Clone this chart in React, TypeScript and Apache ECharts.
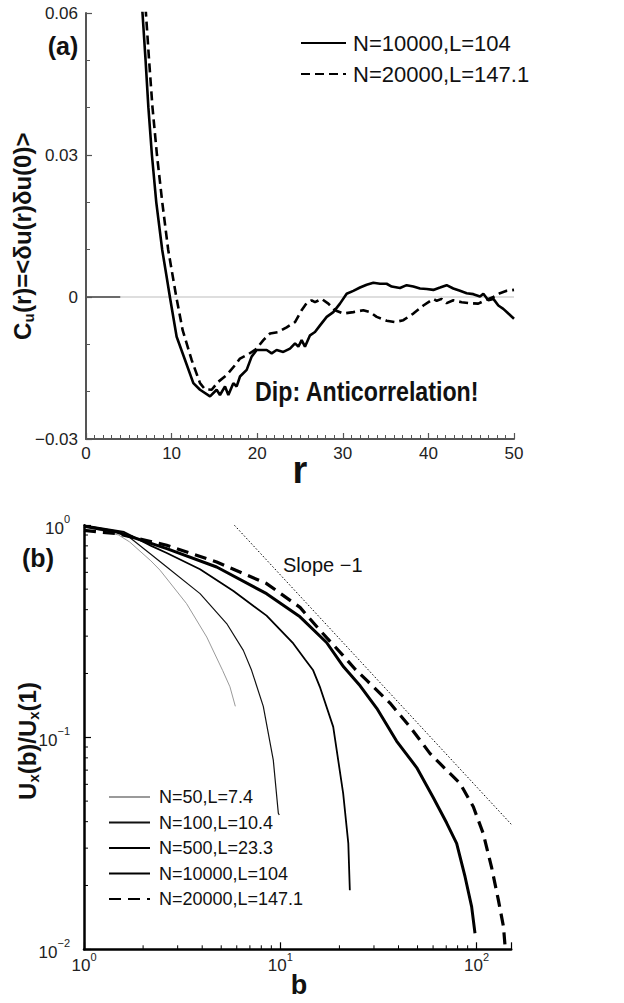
import React, { useEffect, useRef } from 'react';
import * as echarts from 'echarts';

const FONT = '"Liberation Sans", Arial, Helvetica, sans-serif';

// ---------- Panel (a): C_u(r) ----------
const rSolid = [6.27, 6.6, 6.96, 7.29, 7.7, 8.21, 8.9, 9.4, 9.8, 10.59, 11.57, 12.54, 13.32, 14.49, 15.26, 15.65, 16.24, 16.63, 17.21, 17.6, 17.99, 18.77, 19.35, 19.94, 21.11, 21.69, 22.27, 23.05, 23.83, 24.42, 24.81, 25.19, 25.58, 26.17, 26.75, 27.34, 28.12, 28.89, 29.67, 30.45, 31.23, 32.01, 32.79, 33.57, 34.35, 35.12, 35.71, 36.68, 37.46, 38.24, 39.02, 39.8, 40.58, 41.36, 42.13, 42.91, 43.69, 44.47, 45.25, 46.03, 46.42, 47.0, 47.59, 48.17, 48.75, 49.34, 50];
const cSolid = [0.07, 0.06, 0.05, 0.04, 0.03, 0.02, 0.01, 0.0045, 0, -0.0084, -0.0133, -0.0182, -0.0196, -0.021, -0.0196, -0.0207, -0.0189, -0.0207, -0.0182, -0.0189, -0.0168, -0.0154, -0.0126, -0.0112, -0.0112, -0.0119, -0.0112, -0.0116, -0.0109, -0.0098, -0.0105, -0.0091, -0.0105, -0.0081, -0.0074, -0.006, -0.0042, -0.0032, -0.0014, 0.0007, 0.0013, 0.002, 0.0026, 0.003, 0.0028, 0.0028, 0.0022, 0.0019, 0.0025, 0.0022, 0.0018, 0.0017, 0.0015, 0.002, 0.0025, 0.0018, 0.0013, 0.0008, 0.0006, 0.0001, 0.0007, -0.0007, -0.0004, -0.0018, -0.0025, -0.0035, -0.0046];
const rDashed = [6.64, 7.0, 7.37, 7.77, 8.29, 8.91, 9.6, 10.55, 11.29, 12.34, 13.32, 13.9, 14.68, 15.46, 16.43, 17.41, 17.99, 18.96, 19.94, 20.72, 21.5, 22.47, 23.44, 24.42, 25.19, 25.78, 26.36, 26.75, 27.53, 28.31, 29.09, 30.06, 31.23, 32.4, 33.18, 33.96, 35.12, 36.1, 37.07, 38.24, 39.41, 40.58, 40.97, 41.55, 42.13, 42.91, 43.89, 44.86, 45.83, 46.61, 47.59, 48.36, 49.14, 50];
const cDashed = [0.07, 0.06, 0.05, 0.04, 0.03, 0.02, 0.01, 0, -0.007, -0.0133, -0.0182, -0.0195, -0.0196, -0.0179, -0.0165, -0.0144, -0.013, -0.0121, -0.0109, -0.0091, -0.0077, -0.0074, -0.0064, -0.0053, -0.0028, -0.0013, -0.0007, -0.0011, -0.0004, -0.0014, -0.0028, -0.0035, -0.0032, -0.0028, -0.0032, -0.0042, -0.005, -0.0053, -0.0049, -0.0035, -0.0018, -0.0004, -0.0008, -0.0004, -0.0013, -0.0007, -0.0011, -0.0013, -0.0014, -0.0007, 0, 0.0008, 0.0013, 0.0015];
const zeroLineR = [0, 50];
const zeroStubR = [0, 4];
const legendA = ['N=10000,L=104', 'N=20000,L=147.1'];

// ---------- Panel (b): U_x(b)/U_x(1) ----------
const b50 = [1, 1.5, 1.71, 2.19, 2.44, 3.33, 4.22, 5.08, 5.54, 5.9];
const u50 = [0.99, 0.9, 0.834, 0.68, 0.614, 0.427, 0.297, 0.207, 0.173, 0.14];
const b100 = [1, 1.6, 2.19, 2.64, 3.9, 5.33, 6.48, 7.14, 8.19, 9.21, 9.77, 9.88];
const u100 = [1.0, 0.92, 0.73, 0.636, 0.476, 0.344, 0.257, 0.207, 0.14, 0.078, 0.0438, 0.043];
const b500 = [1, 1.6, 2.2, 2.64, 3.9, 5.77, 8.51, 11.64, 13.4, 14.7, 15.9, 18.6, 20.9, 22.2, 22.6];
const u500 = [1.0, 0.93, 0.8, 0.74, 0.62, 0.49, 0.375, 0.277, 0.232, 0.207, 0.173, 0.112, 0.0544, 0.0316, 0.019];
const b10k = [1, 1.47, 2.64, 4.74, 8.51, 12.6, 17.2, 21, 25.5, 31, 39.1, 49.5, 60.1, 70.3, 79.1, 87.3, 94.3, 98.1];
const u10k = [0.99, 0.93, 0.776, 0.636, 0.476, 0.37, 0.28, 0.215, 0.175, 0.137, 0.096, 0.072, 0.052, 0.0395, 0.0316, 0.022, 0.0159, 0.0119];
const b20k = [1, 1.47, 2.64, 4.74, 8.51, 12.6, 16, 20.9, 24, 27.5, 36.2, 45.8, 57.8, 70.3, 82.2, 96.2, 108, 119, 129, 137, 140];
const u20k = [0.946, 0.913, 0.805, 0.671, 0.531, 0.41, 0.318, 0.243, 0.21, 0.186, 0.145, 0.112, 0.084, 0.07, 0.0607, 0.047, 0.0352, 0.0245, 0.0171, 0.0128, 0.01];
const slopeB = [5.84, 150];
const slopeU = [1, 0.0389];
const legendB = ['N=50,L=7.4', 'N=100,L=10.4', 'N=500,L=23.3', 'N=10000,L=104', 'N=20000,L=147.1'];
const xMinorB = [2, 3, 4, 5, 6, 7, 8, 9, 20, 30, 40, 50, 60, 70, 80, 90];
const yMinorB = [0.02, 0.03, 0.04, 0.05, 0.06, 0.07, 0.08, 0.09, 0.2, 0.3, 0.4, 0.5, 0.6, 0.7, 0.8, 0.9];

const zip = (a: number[], b: number[]) => a.map((v, i) => [v, b[i]]);

const pow10 = (v: number): number | null => {
  const l = Math.log10(v);
  const e = Math.round(l);
  return Math.abs(l - e) < 1e-6 ? e : null;
};
const logLabel = (v: number) => {
  const e = pow10(v);
  if (e === null) return '';
  return `{b|10}{s|${e < 0 ? '\u2212' + -e : e}}`;
};
const logRich = {
  b: { fontSize: 17, fontFamily: FONT, color: '#222', verticalAlign: 'bottom' },
  s: { fontSize: 11, fontFamily: FONT, color: '#222', verticalAlign: 'bottom', padding: [0, 0, 12, 0] },
};

const bold = (size: number) => ({ fontSize: size, fontWeight: 'bold', fontFamily: FONT, fill: '#111' });

export default function App() {
  const ref = useRef<HTMLDivElement>(null);
  useEffect(() => {
    const chart = echarts.init(ref.current!, null, { renderer: 'svg' });
    const axisGrayA = '#555';
    const option: any = {
      animation: false,
      backgroundColor: '#fff',
      grid: [
        { left: 86, right: 110, top: 13, bottom: 564 },
        { left: 84, right: 112.8, top: 525.3, bottom: 53.7 },
      ],
      xAxis: [
        {
          type: 'value', gridIndex: 0, min: 0, max: 50, interval: 10,
          axisLine: { onZero: false, lineStyle: { color: axisGrayA, width: 2 } },
          axisTick: { inside: true, length: 6, lineStyle: { color: axisGrayA, width: 1.2 } },
          minorTick: { show: true, splitNumber: 10, length: 4, lineStyle: { color: axisGrayA, width: 1 } },
          splitLine: { show: false },
          axisLabel: { fontSize: 17, fontFamily: FONT, color: '#222', margin: 6 },
        },
        {
          type: 'log', logBase: 10, gridIndex: 1, min: 1, max: 150, splitNumber: 2,
          axisLine: { onZero: false, lineStyle: { color: '#000', width: 2.5 } },
          axisTick: { inside: true, length: 7, lineStyle: { color: '#000', width: 1.2 } },
          splitLine: { show: false },
          axisLabel: { formatter: logLabel, rich: logRich, margin: 2 },
        },
      ],
      yAxis: [
        {
          type: 'value', gridIndex: 0, min: -0.03, max: 0.06, interval: 0.03,
          axisLine: { onZero: false, lineStyle: { color: axisGrayA, width: 2 } },
          axisTick: { inside: true, length: 6, lineStyle: { color: axisGrayA, width: 1.2 } },
          minorTick: { show: true, splitNumber: 3, length: 4, lineStyle: { color: axisGrayA, width: 1 } },
          splitLine: { show: false },
          axisLabel: {
            fontSize: 17, fontFamily: FONT, color: '#222', margin: 8,
            formatter: (v: number) => (Math.abs(v) < 1e-9 ? '0' : (v < 0 ? '\u2212' : '') + Math.abs(v).toFixed(2)),
          },
        },
        {
          type: 'log', logBase: 10, gridIndex: 1, min: 0.01, max: 1, splitNumber: 2,
          axisLine: { onZero: false, lineStyle: { color: '#000', width: 2.5 } },
          axisTick: { inside: true, length: 7, lineStyle: { color: '#000', width: 1.2 } },
          splitLine: { show: false },
          axisLabel: { formatter: logLabel, rich: logRich, margin: 14 },
        },
      ],
      legend: [
        {
          data: legendA.map((n) => 'a:' + n), formatter: (n: string) => n.replace(/^[ab]:/, ''),
          orient: 'vertical', left: 295, top: 27, itemWidth: 45, itemHeight: 14, itemGap: 9,
          selectedMode: false,
          itemStyle: { opacity: 0 },
          textStyle: { fontSize: 22, lineHeight: 22, fontFamily: FONT, color: '#111', padding: [0, 0, 0, 2] },
        },
        {
          data: legendB.map((n) => 'b:' + n), formatter: (n: string) => n.replace(/^[ab]:/, ''),
          orient: 'vertical', left: 103, top: 783, itemWidth: 41, itemHeight: 14, itemGap: 7.5,
          selectedMode: false,
          itemStyle: { opacity: 0 },
          textStyle: { fontSize: 18, lineHeight: 18, fontFamily: FONT, color: '#111', padding: [0, 0, 0, 4] },
        },
      ],
      series: [
        {
          type: 'line', name: 'zero', xAxisIndex: 0, yAxisIndex: 0, symbol: 'none', silent: true, z: 1,
          data: zeroLineR.map((r) => [r, 0]), lineStyle: { color: '#bdbdbd', width: 1.2 },
        },
        {
          type: 'line', name: 'zeroStub', xAxisIndex: 0, yAxisIndex: 0, symbol: 'none', silent: true, z: 1,
          data: zeroStubR.map((r) => [r, 0]), lineStyle: { color: '#444', width: 1.5 },
        },
        {
          type: 'line', name: 'a:' + legendA[0], xAxisIndex: 0, yAxisIndex: 0, symbol: 'none', clip: true,
          data: zip(rSolid, cSolid), lineStyle: { color: '#000', width: 2.6 }, itemStyle: { color: '#000' },
        },
        {
          type: 'line', name: 'a:' + legendA[1], xAxisIndex: 0, yAxisIndex: 0, symbol: 'none', clip: true,
          data: zip(rDashed, cDashed), lineStyle: { color: '#000', width: 2.6, type: [9, 5] }, itemStyle: { color: '#000' },
        },
        {
          type: 'line', name: 'b:' + legendB[0], xAxisIndex: 1, yAxisIndex: 1, symbol: 'none',
          data: zip(b50, u50), lineStyle: { color: '#9a9a9a', width: 1 }, itemStyle: { color: '#9a9a9a' },
        },
        {
          type: 'line', name: 'b:' + legendB[1], xAxisIndex: 1, yAxisIndex: 1, symbol: 'none',
          data: zip(b100, u100), lineStyle: { color: '#111', width: 1.2 }, itemStyle: { color: '#111' },
        },
        {
          type: 'line', name: 'b:' + legendB[2], xAxisIndex: 1, yAxisIndex: 1, symbol: 'none',
          data: zip(b500, u500), lineStyle: { color: '#000', width: 1.8 }, itemStyle: { color: '#000' },
        },
        {
          type: 'line', name: 'b:' + legendB[3], xAxisIndex: 1, yAxisIndex: 1, symbol: 'none',
          data: zip(b10k, u10k), lineStyle: { color: '#000', width: 3 }, itemStyle: { color: '#000' },
        },
        {
          type: 'line', name: 'b:' + legendB[4], xAxisIndex: 1, yAxisIndex: 1, symbol: 'none',
          data: zip(b20k, u20k), lineStyle: { color: '#000', width: 3.2, type: [12, 7] }, itemStyle: { color: '#000' },
        },
        {
          type: 'line', name: 'slope', xAxisIndex: 1, yAxisIndex: 1, symbol: 'none', silent: true,
          data: zip(slopeB, slopeU), lineStyle: { color: '#000', width: 1, type: [1.5, 2] },
        },
        {
          type: 'custom', name: 'xMinor', xAxisIndex: 1, yAxisIndex: 1, silent: true, clip: false,
          data: xMinorB.map((v) => [v, 0.01]),
          renderItem: (_p: any, api: any) => {
            const p = api.coord([api.value(0), api.value(1)]);
            return { type: 'line', shape: { x1: p[0], y1: p[1], x2: p[0], y2: p[1] - 4 }, style: { stroke: '#000', lineWidth: 1 } };
          },
        },
        {
          type: 'custom', name: 'yMinor', xAxisIndex: 1, yAxisIndex: 1, silent: true, clip: false,
          data: yMinorB.map((v) => [1, v]),
          renderItem: (_p: any, api: any) => {
            const p = api.coord([api.value(0), api.value(1)]);
            return { type: 'line', shape: { x1: p[0], y1: p[1], x2: p[0] + 4, y2: p[1] }, style: { stroke: '#000', lineWidth: 1 } };
          },
        },
      ],
      graphic: [
        { type: 'text', x: 63, y: 46, style: { text: '(a)', ...bold(25), align: 'center', verticalAlign: 'middle' } },
        {
          type: 'group', x: 22, y: 236, rotation: Math.PI / 2,
          children: [
            { type: 'text', x: -104, y: 0, style: { text: 'C', ...bold(24), align: 'left', verticalAlign: 'middle' } },
            { type: 'text', x: -86.5, y: 6, style: { text: 'u', ...bold(15), align: 'left', verticalAlign: 'middle' } },
            { type: 'text', x: -77, y: 0, style: { text: '(r)=<\u03b4u(r)\u03b4u(0)>', ...bold(24), align: 'left', verticalAlign: 'middle' } },
          ],
        },
        { type: 'text', x: 300, y: 470, style: { text: 'r', ...bold(38), align: 'center', verticalAlign: 'middle' } },
        { type: 'text', x: 255, y: 391, scaleX: 0.86, style: { text: 'Dip: Anticorrelation!', ...bold(27), align: 'left', verticalAlign: 'middle' } },
        { type: 'text', x: 38, y: 558, style: { text: '(b)', ...bold(25), align: 'center', verticalAlign: 'middle' } },
        {
          type: 'group', x: 27, y: 741, rotation: Math.PI / 2,
          children: [
            { type: 'text', x: -58.9, y: 0, style: { text: 'U', ...bold(24), align: 'left', verticalAlign: 'middle' } },
            { type: 'text', x: -41.6, y: 6, style: { text: 'x', ...bold(15), align: 'left', verticalAlign: 'middle' } },
            { type: 'text', x: -33.3, y: 0, style: { text: '(b)/', ...bold(24), align: 'left', verticalAlign: 'middle' } },
            { type: 'text', x: 4.0, y: 0, style: { text: 'U', ...bold(24), align: 'left', verticalAlign: 'middle' } },
            { type: 'text', x: 21.3, y: 6, style: { text: 'x', ...bold(15), align: 'left', verticalAlign: 'middle' } },
            { type: 'text', x: 29.6, y: 0, style: { text: '(1)', ...bold(24), align: 'left', verticalAlign: 'middle' } },
          ],
        },
        { type: 'text', x: 299, y: 985, style: { text: 'b', ...bold(27), align: 'center', verticalAlign: 'middle' } },
        { type: 'text', x: 283, y: 565, style: { text: 'Slope \u22121', fontSize: 20, fontFamily: FONT, fill: '#111', align: 'left', verticalAlign: 'middle' } },
      ],
    };
    chart.setOption(option);
    return () => chart.dispose();
  }, []);
  return (
    <div
      ref={ref}
      style={{ position: 'absolute', left: 0, top: 0, width: 624, height: 1003, background: '#fff' }}
    />
  );
}
